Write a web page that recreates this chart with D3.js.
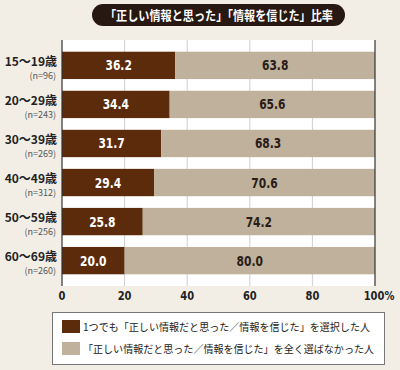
<!DOCTYPE html>
<html>
<head>
<meta charset="utf-8">
<style>
    body { margin: 0; background: #f2eee6; }
    svg { display: block; }
    .cond { font-family: 'DejaVu Sans Condensed', 'Liberation Sans Narrow', sans-serif; font-weight: bold; }
    .jp { font-family: 'Noto Sans CJK JP', sans-serif; }
</style>
</head>
<body>
<svg width="400" height="370"></svg>
<script src="https://d3js.org/d3.v7.min.js"></script>
<script>
    // data
    let ages = ["15～19歳", "20～29歳", "30～39歳", "40～49歳", "50～59歳", "60～69歳"]
    let counts = ["(n=96)", "(n=243)", "(n=269)", "(n=312)", "(n=256)", "(n=260)"]
    let believed = [36.2, 34.4, 31.7, 29.4, 25.8, 20.0]
    let notBelieved = [63.8, 65.6, 68.3, 70.6, 74.2, 80.0]
    let ticks = [0, 20, 40, 60, 80, 100]
    let legendLabels = [
        "1つでも「正しい情報だと思った／情報を信じた」を選択した人",
        "「正しい情報だと思った／情報を信じた」を全く選ばなかった人"
    ]
    let colors = ["#5b2b0c", "#bfb19b"]

    let svg = d3.select("svg")

    let x = d3.scaleLinear().domain([0, 100]).range([62, 375])
    let y = d3.scaleBand().domain(ages).range([40, 286]).paddingInner(0.3).paddingOuter(0.3)

    // squeeze a text horizontally so it reads like a condensed face
    function squeeze(sel, k) {
        sel.each(function () {
            let w = this.getComputedTextLength()
            d3.select(this)
                .attr("textLength", w * k)
                .attr("lengthAdjust", "spacingAndGlyphs")
        })
    }

    // title pill
    svg.append("rect")
        .attr("x", 92).attr("y", 4).attr("width", 253).attr("height", 22)
        .attr("rx", 11)
        .style("fill", "#281812")
    svg.append("text")
        .attr("class", "jp")
        .attr("x", 105).attr("y", 20)
        .attr("textLength", 228)
        .attr("lengthAdjust", "spacingAndGlyphs")
        .style("fill", "white")
        .style("font-size", "13px")
        .style("font-weight", "bold")
        .text("「正しい情報と思った」「情報を信じた」比率")

    // plot background
    svg.append("rect")
        .attr("x", x(0)).attr("y", 40)
        .attr("width", x(100) - x(0)).attr("height", 246)
        .style("fill", "white")

    // gridlines
    svg.selectAll(".grid")
        .data(ticks.slice(1, -1))
        .join("line")
        .attr("x1", d => x(d)).attr("x2", d => x(d))
        .attr("y1", 40).attr("y2", 286)
        .style("stroke", "#cfcfcf")
        .style("stroke-width", 1)

    let rows = svg.selectAll(".row")
        .data(ages)
        .join("g")

    rows.append("rect")
        .attr("x", x(0))
        .attr("y", d => y(d))
        .attr("width", (d, i) => x(believed[i]) - x(0))
        .attr("height", y.bandwidth())
        .style("fill", colors[0])

    rows.append("rect")
        .attr("x", (d, i) => x(believed[i]))
        .attr("y", d => y(d))
        .attr("width", (d, i) => x(believed[i] + notBelieved[i]) - x(believed[i]))
        .attr("height", y.bandwidth())
        .style("fill", colors[1])

    rows.append("text")
        .attr("class", "cond")
        .attr("x", (d, i) => x(believed[i] / 2))
        .attr("y", d => y(d) + y.bandwidth() / 2 + 5)
        .attr("text-anchor", "middle")
        .style("fill", "white")
        .style("font-size", "14px")
        .text((d, i) => believed[i].toFixed(1))
        .call(squeeze, 0.85)

    rows.append("text")
        .attr("class", "cond")
        .attr("x", (d, i) => x(believed[i] + notBelieved[i] / 2))
        .attr("y", d => y(d) + y.bandwidth() / 2 + 5)
        .attr("text-anchor", "middle")
        .style("fill", "#2a1c16")
        .style("font-size", "14px")
        .text((d, i) => notBelieved[i].toFixed(1))
        .call(squeeze, 0.85)

    // category labels
    rows.append("text")
        .attr("class", "jp")
        .attr("x", 57)
        .attr("y", d => y(d) + y.bandwidth() / 2 + 0.5)
        .attr("text-anchor", "end")
        .style("font-size", "12px")
        .style("font-weight", "bold")
        .style("fill", "#222")
        .text(d => d)

    rows.append("text")
        .attr("class", "jp")
        .attr("x", 56)
        .attr("y", d => y(d) + y.bandwidth() / 2 + 13.5)
        .attr("text-anchor", "end")
        .style("font-size", "9px")
        .style("fill", "#555")
        .text((d, i) => counts[i])

    // axis lines
    svg.selectAll(".axisline")
        .data([0, 100])
        .join("line")
        .attr("x1", d => x(d)).attr("x2", d => x(d))
        .attr("y1", 40).attr("y2", 286)
        .style("stroke", "#333")
        .style("stroke-width", 1.2)

    // tick labels
    svg.selectAll(".tick")
        .data(ticks)
        .join("text")
        .attr("class", "cond")
        .attr("x", d => d == 100 ? x(d) + 4 : x(d))
        .attr("y", 300)
        .attr("text-anchor", "middle")
        .style("font-size", "13px")
        .style("fill", "#222")
        .text(d => d == 100 ? "100%" : d)
        .call(squeeze, 0.85)

    // legend
    svg.append("rect")
        .attr("x", 52.5).attr("y", 312.5)
        .attr("width", 332).attr("height", 52)
        .style("fill", "white")
        .style("stroke", "#777")

    let legendWidths = [287, 291]

    let legend = svg.selectAll(".legend")
        .data(legendLabels)
        .join("g")
        .attr("transform", (d, i) => "translate(62," + (320 + i * 22) + ")")

    legend.append("rect")
        .attr("width", 18).attr("height", 13)
        .style("fill", (d, i) => colors[i])

    legend.append("text")
        .attr("class", "jp")
        .attr("x", 21).attr("y", 11)
        .attr("textLength", (d, i) => legendWidths[i])
        .attr("lengthAdjust", "spacingAndGlyphs")
        .style("font-size", "10.5px")
        .style("fill", "#222")
        .text(d => d)
</script>
</body>
</html>
